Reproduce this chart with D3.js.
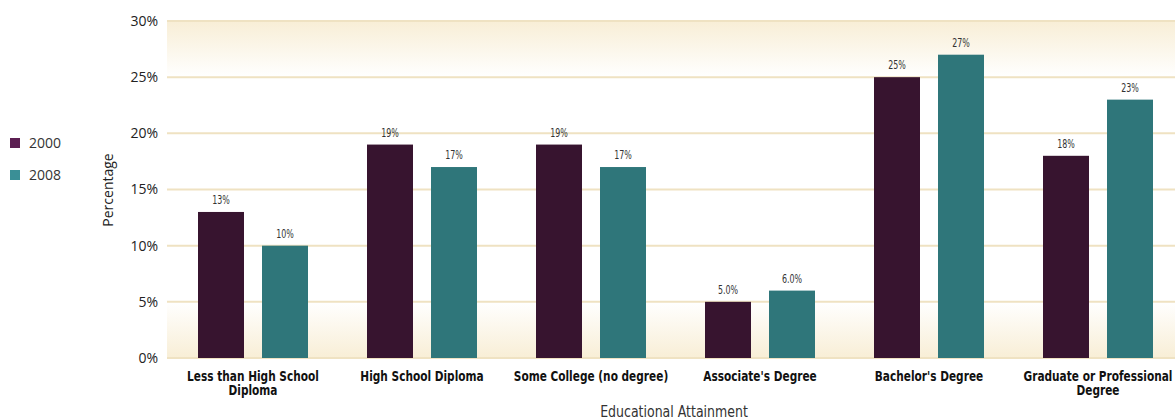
<!DOCTYPE html>
<html><head><meta charset="utf-8">
<script src="https://cdn.jsdelivr.net/npm/d3@7"></script>
<style>body{margin:0;background:#fff}svg{display:block}</style>
</head><body>
<svg id="c" width="1175" height="419"></svg>
<script>
const categories = [["Less than High School","Diploma"],["High School Diploma"],["Some College (no degree)"],["Associate's Degree"],["Bachelor's Degree"],["Graduate or Professional","Degree"]];
const series = ["2000","2008"];
const values2000 = [13,19,19,5,25,18];
const values2008 = [10,17,17,6,27,23];
const labels2000 = ["13%","19%","19%","5.0%","25%","18%"];
const labels2008 = ["10%","17%","17%","6.0%","27%","23%"];
const yTicks = [0,5,10,15,20,25,30];

const svg = d3.select("#c");
const x0 = 167, x1 = 1175;
const y = d3.scaleLinear().domain([0,30]).range([358,21]);
const xb = d3.scaleBand().domain(d3.range(categories.length)).range([168,1182]).paddingInner(0).paddingOuter(0);
const xs = d3.scaleBand().domain(series).range([30,140]).paddingInner(18/64).paddingOuter(0);
const colors = {"2000":"#37142f","2008":"#2f767a"};
const legendColors = {"2000":"#5c1f52","2008":"#3a8f96"};
const condensed = "DejaVu Sans Condensed, sans-serif";

const defs = svg.append("defs");
const gTop = defs.append("linearGradient").attr("id","gt").attr("x1",0).attr("x2",0).attr("y1",0).attr("y2",1);
gTop.append("stop").attr("offset",0).attr("stop-color","#f8eed6");
gTop.append("stop").attr("offset",1).attr("stop-color","#ffffff");
const gBot = defs.append("linearGradient").attr("id","gb").attr("x1",0).attr("x2",0).attr("y1",0).attr("y2",1);
gBot.append("stop").attr("offset",0).attr("stop-color","#ffffff");
gBot.append("stop").attr("offset",1).attr("stop-color","#f8eed6");

svg.append("rect").attr("x",x0).attr("width",x1-x0).attr("y",y(30)).attr("height",y(25)-y(30)).attr("fill","url(#gt)");
svg.append("rect").attr("x",x0).attr("width",x1-x0).attr("y",y(5)).attr("height",y(0)-y(5)).attr("fill","url(#gb)");

svg.append("g").selectAll("line").data(yTicks).join("line")
  .attr("x1",x0).attr("x2",x1).attr("y1",d=>y(d)).attr("y2",d=>y(d))
  .attr("stroke","#efe2c2").attr("stroke-width",2);

svg.append("g").selectAll("text").data(yTicks).join("text")
  .attr("x",158).attr("y",d=>y(d)).attr("dy","0.35em").attr("text-anchor","end")
  .attr("font-family","Open Sans, sans-serif").attr("font-size",14).attr("fill","#222")
  .text(d=>d+"%");

svg.append("text").attr("transform","translate(113,190) rotate(-90)").attr("text-anchor","middle")
  .attr("font-family","Open Sans, sans-serif").attr("font-size",14).attr("fill","#222").text("Percentage");

const data = [];
categories.forEach((c,i)=>{
  data.push({i, s:"2000", v:values2000[i], l:labels2000[i]});
  data.push({i, s:"2008", v:values2008[i], l:labels2008[i]});
});
const bars = svg.append("g");
bars.selectAll("rect").data(data).join("rect")
  .attr("x",d=>xb(d.i)+xs(d.s)).attr("width",xs.bandwidth())
  .attr("y",d=>y(d.v)).attr("height",d=>y(0)-y(d.v)).attr("fill",d=>colors[d.s]);
bars.selectAll("text").data(data).join("text")
  .attr("transform",d=>`translate(${xb(d.i)+xs(d.s)+xs.bandwidth()/2},${y(d.v)-8}) scale(0.68,1)`)
  .attr("text-anchor","middle").attr("font-family",condensed)
  .attr("font-size",13).attr("fill","#333").text(d=>d.l);

const xl = svg.append("g");
categories.forEach((c,i)=>{
  const t = xl.append("text").attr("transform",`translate(${xb(i)+85},381) scale(0.84,1)`).attr("text-anchor","middle")
    .attr("font-family",condensed).attr("font-weight","bold")
    .attr("font-size",14).attr("fill","#111");
  c.forEach((line,k)=>t.append("tspan").attr("x",0).attr("y",k*14).text(line));
});

svg.append("text").attr("transform","translate(674,417) scale(0.9,1)").attr("text-anchor","middle")
  .attr("font-family",condensed).attr("font-size",15.5).attr("fill","#333")
  .text("Educational Attainment");

const lg = svg.append("g");
series.forEach((s,k)=>{
  lg.append("rect").attr("x",10).attr("y",138+k*32).attr("width",10).attr("height",10).attr("fill",legendColors[s]);
  lg.append("text").attr("x",29).attr("y",143+k*32).attr("dy","0.35em").attr("font-family","Open Sans, sans-serif")
    .attr("font-size",14).attr("fill","#333").text(s);
});
</script>
</body></html>
